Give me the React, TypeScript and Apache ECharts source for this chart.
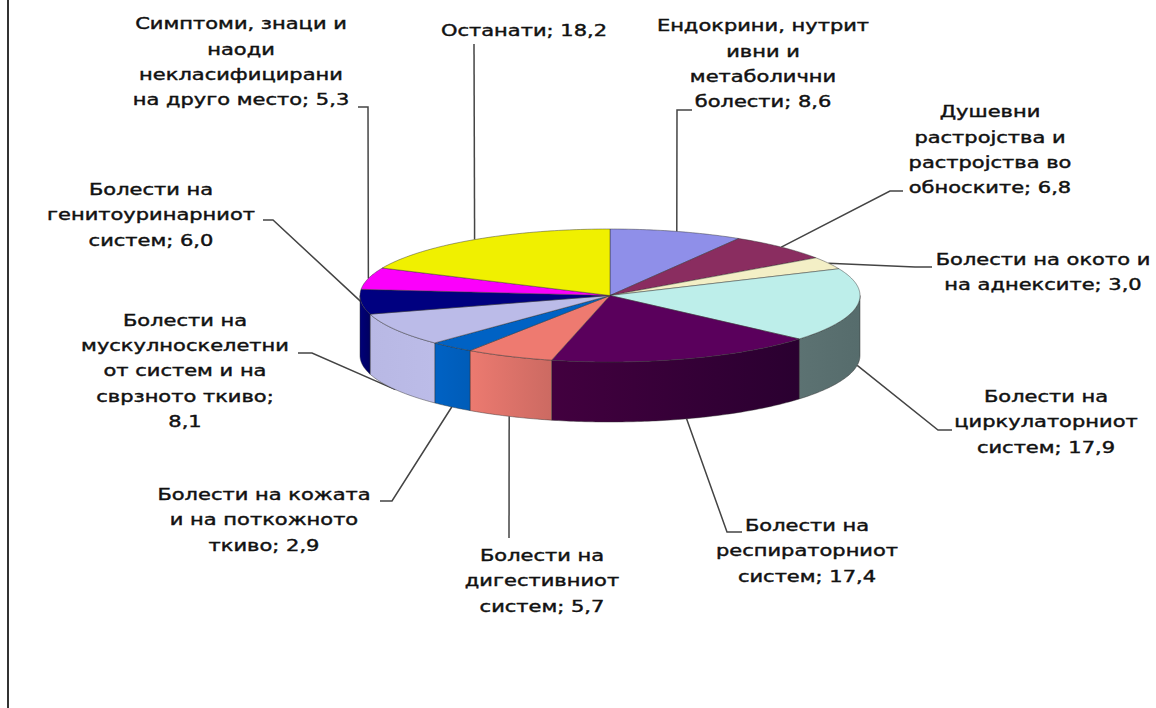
import React, { useEffect, useRef } from "react";
import * as echarts from "echarts";

const names = [
  "Ендокрини, нутрит\nивни и\nметаболични\nболести; {v}",
  "Душевни\nрастројства и\nрастројства во\nобноските; {v}",
  "Болести на окото и\nна аднексите; {v}",
  "Болести на\nциркулаторниот\nсистем; {v}",
  "Болести на\nреспираторниот\nсистем; {v}",
  "Болести на\nдигестивниот\nсистем; {v}",
  "Болести на кожата\nи на поткожното\nткиво; {v}",
  "Болести на\nмускулноскелетни\nот систем и на\nсврзното ткиво;\n{v}",
  "Болести на\nгенитоуринарниот\nсистем; {v}",
  "Симптоми, знаци и\nнаоди\nнекласифицирани\nна друго место; {v}",
  "Останати; {v}",
];
const values = [8.6, 6.8, 3.0, 17.9, 17.4, 5.7, 2.9, 8.1, 6.0, 5.3, 18.2];
const topColors = ["#8f8fe9", "#8a2d60", "#f3efc6", "#bdeeea", "#5a005c", "#ee7a70", "#0062c4", "#bbbbe8", "#000080", "#fb00fb", "#f0f000"];
const wallColors: [string, string][] = [
  ["#8f8fe9", "#8f8fe9"], ["#8a2d60", "#8a2d60"], ["#f3efc6", "#f3efc6"],
  ["#5c7272", "#566c6c"], ["#42003f", "#2a0030"], ["#ec7a70", "#cc6a62"],
  ["#0062c4", "#005cb8"], ["#b8b8e4", "#bcbce8"], ["#000078", "#000060"],
  ["#fb00fb", "#fb00fb"], ["#f0f000", "#f0f000"],
];
// layout: centre of each label, and the elbow of its leader [startX, startY, elbowX, elbowY]
const labelCentres = [[763, 64], [990, 150], [1043, 272], [1046, 422], [807, 551], [542, 581], [264, 520], [185, 371], [151, 215], [241, 62], [524, 31]];
const leaderEnds = [[692, 110, 677, 110], [903, 191, 890, 191], [932, 267, 915, 267], [952, 430, 938, 430], [742, 532, 727, 532], [509, 538, 509, 538], [380, 501, 392, 501], [298, 353, 312, 353], [263, 220, 273, 220], [358, 107, 368, 107], [474, 44, 474, 44]];

const CX = 610, CY = 295.5, RX = 250, RY = 66.5, DEPTH = 60;
const total = values.reduce((a, b) => a + b, 0);
const cumulative = values.reduce<number[]>((acc, v) => [...acc, acc[acc.length - 1] + v], [0]);
const ang = (share: number) => (share / total) * Math.PI * 2;
const pt = (a: number, dy = 0) => [CX + RX * Math.sin(a), CY - RY * Math.cos(a) + dy];
const arc = (a0: number, a1: number, dy = 0) => {
  const n = Math.max(2, Math.ceil((a1 - a0) / 0.015));
  return Array.from({ length: n + 1 }, (_, k) => pt(a0 + ((a1 - a0) * k) / n, dy));
};
const EDGE = { stroke: "rgba(50,50,50,0.65)", lineWidth: 0.7 };

function renderTop(_p: any, api: any) {
  const i = api.value(1);
  const a0 = ang(cumulative[i]), a1 = ang(cumulative[i] + api.value(0));
  return { type: "polygon", shape: { points: [[CX, CY], ...arc(a0, a1)] }, style: { fill: topColors[i], ...EDGE } };
}
function renderWall(_p: any, api: any) {
  const i = api.value(1);
  const a0 = Math.max(ang(cumulative[i]), Math.PI / 2);
  const a1 = Math.min(ang(cumulative[i] + api.value(0)), (Math.PI * 3) / 2);
  if (a1 <= a0) return null;
  return {
    type: "polygon",
    shape: { points: [...arc(a0, a1), ...arc(a0, a1, DEPTH).reverse()] },
    style: {
      fill: { type: "linear", x: 0, y: 0, x2: 1, y2: 0, colorStops: [{ offset: 0, color: wallColors[i][0] }, { offset: 1, color: wallColors[i][1] }] },
      ...EDGE,
    },
  };
}
function renderLeader(_p: any, api: any) {
  const i = api.value(1);
  const mid = ang(cumulative[i] + api.value(0) / 2);
  const front = mid > Math.PI / 2 && mid < (Math.PI * 260) / 180;
  const [sx, sy, ex, ey] = leaderEnds[i];
  return {
    type: "polyline",
    shape: { points: [[sx, sy], [ex, ey], pt(mid, front ? DEPTH : 0)] },
    style: { fill: "none", stroke: "#444", lineWidth: 1.5 },
  };
}
function renderLabel(_p: any, api: any) {
  const i = api.value(1);
  const [x, y] = labelCentres[i];
  return {
    type: "text",
    x,
    y,
    scaleX: 1.4,
    style: {
      text: names[i].replace("{v}", api.value(0).toFixed(1).replace(".", ",")),
      font: "15px 'DejaVu Sans'",
      fill: "#111",
      stroke: "#111",
      lineWidth: 0.4,
      align: "center",
      verticalAlign: "middle",
      lineHeight: 25.4,
    },
  };
}

export default function App() {
  const ref = useRef<HTMLDivElement>(null);
  useEffect(() => {
    document.body.style.margin = "0";
    const chart = echarts.init(ref.current!, null, { renderer: "svg" });
    const data = values.map((v, i) => [v, i]);
    const layer = (renderItem: any, z: number) => ({ type: "custom", coordinateSystem: "none", renderItem, data, z, silent: true });
    chart.setOption({
      animation: false,
      backgroundColor: "#fff",
      graphic: [{ type: "line", shape: { x1: 8, y1: 0, x2: 8, y2: 708 }, style: { stroke: "#333", lineWidth: 2 } }],
      series: [layer(renderLeader, 1), layer(renderWall, 2), layer(renderTop, 3), layer(renderLabel, 4)],
    });
    return () => chart.dispose();
  }, []);
  return <div ref={ref} style={{ width: 1156, height: 708 }} />;
}
